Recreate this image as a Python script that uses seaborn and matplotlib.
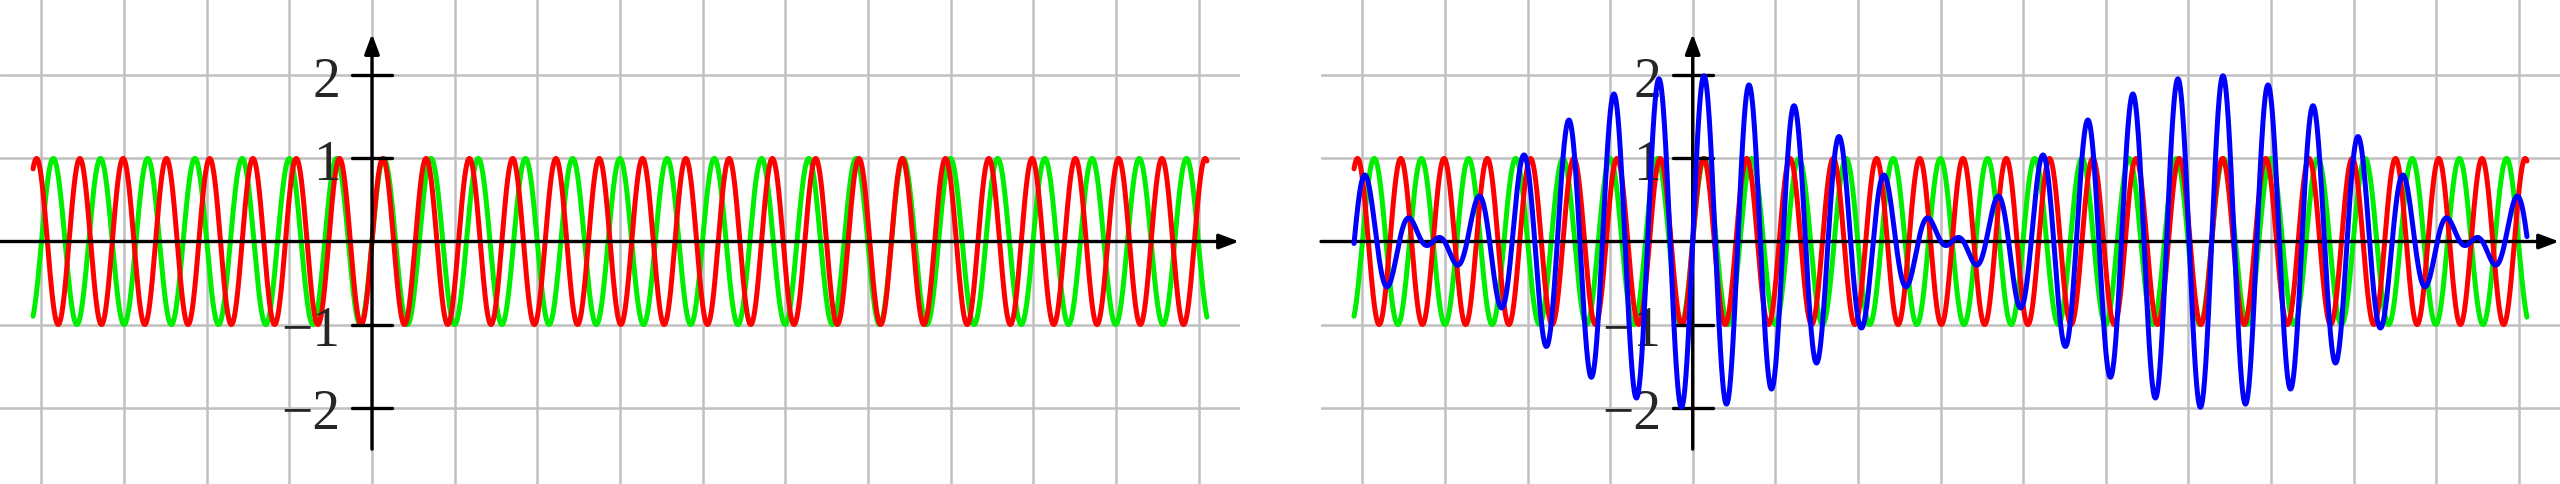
import numpy as np
import pandas as pd
import matplotlib
matplotlib.use("Agg")
import matplotlib.pyplot as plt
import seaborn as sns

# Data
omega_green = 11.0      # angular frequency of green wave
omega_red = 12.0        # angular frequency of red wave
x_start, x_end = -4.1, 10.1
ytick_vals = [2, 1, -1, -2]
ytick_labels = ["2", "1", "\u22121", "\u22122"]

x = np.linspace(x_start, x_end, 4000)
green = np.sin(omega_green * x)
red = np.sin(omega_red * x)
blue = green + red
df = pd.DataFrame({"x": x, "green": green, "red": red, "blue": blue})

sns.set_style("white")
W, H = 2560, 485
fig = plt.figure(figsize=(W / 100, H / 100), dpi=100)
axes = [fig.add_axes([0, 0, 1240 / W, 1]), fig.add_axes([1321 / W, 0, 1239 / W, 1])]

arrow = dict(arrowstyle="-|>,head_length=1.2,head_width=0.45", lw=2.4,
             color="k", shrinkA=0, shrinkB=0)
for i, ax in enumerate(axes):
    ax.set_xlim(-4.5, 10.5)
    ax.set_ylim(-2.92, 2.92)
    for s in ax.spines.values():
        s.set_visible(False)
    ax.set_xticks([]); ax.set_yticks([])
    for gx in range(-4, 11):
        ax.axvline(gx, color="#c0c0c0", lw=1.8, zorder=0)
    for gy in [-2, -1, 1, 2]:
        ax.axhline(gy, color="#c0c0c0", lw=1.8, zorder=0)
    sns.lineplot(data=df, x="x", y="green", ax=ax, color="#00ee00", lw=3.6, zorder=2, sort=False)
    sns.lineplot(data=df, x="x", y="red", ax=ax, color="#ff0000", lw=3.6, zorder=3, sort=False)
    ax.annotate("", xy=(10.49, 0), xytext=(-4.5, 0), arrowprops=arrow, zorder=4,
                annotation_clip=False)
    ax.annotate("", xy=(0, 2.5), xytext=(0, -2.5), arrowprops=arrow, zorder=4,
                annotation_clip=False)
    for v, lab in zip(ytick_vals, ytick_labels):
        ax.plot([-0.24, 0.24], [v, v], color="k", lw=2.4, zorder=4)
        ax.text(-0.38, v - 0.08, lab, ha="right", va="center", fontsize=40,
                family=["Liberation Serif", "DejaVu Serif"], zorder=5)
    if i == 1:
        sns.lineplot(data=df, x="x", y="blue", ax=ax, color="#0000ff", lw=3.6, zorder=6, sort=False)
    ax.set_xlabel(""); ax.set_ylabel("")
    if ax.get_legend():
        ax.get_legend().remove()

fig.savefig("out.png", dpi=100)
